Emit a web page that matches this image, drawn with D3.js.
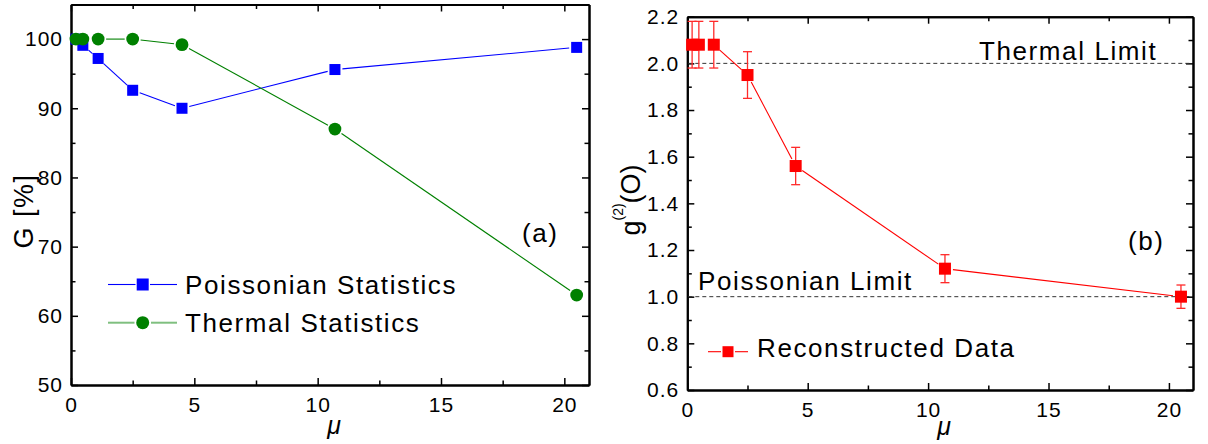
<!DOCTYPE html>
<html>
<head>
<meta charset="utf-8">
<script src="https://cdn.jsdelivr.net/npm/d3@7/dist/d3.min.js"></script>
<style>
  html, body { margin: 0; padding: 0; background: #fff; }
  svg { display: block; }
  text { font-family: "Liberation Sans", Arial, sans-serif; fill: #000; }
</style>
</head>
<body>
<svg id="chart" width="1208" height="444"></svg>
<script>
// ---------- data ----------
const mu = [0.2, 0.48, 1.1, 2.5, 4.5, 10.7, 20.5];
const poissonG = [100, 99.1, 97.2, 92.6, 90.0, 95.6, 98.8];
const thermalG = [100, 100, 100, 100, 99.2, 87.0, 63.0];
const g2Values = [2.08, 2.08, 2.08, 1.95, 1.56, 1.12, 1.0];
const g2Errors = [0.1, 0.1, 0.1, 0.1, 0.08, 0.06, 0.05];

const xMajorTicks = [0, 5, 10, 15, 20];
const xMinorTicks = [2.5, 7.5, 12.5, 17.5];
const gMajorTicks = [50, 60, 70, 80, 90, 100];
const gMinorTicks = [55, 65, 75, 85, 95];
const g2MajorTicks = [0.6, 0.8, 1.0, 1.2, 1.4, 1.6, 1.8, 2.0, 2.2];
const g2MinorTicks = [0.7, 0.9, 1.1, 1.3, 1.5, 1.7, 1.9, 2.1];
const limitLevels = [2.0, 1.0];
const limitLabels = ["Thermal Limit", "Poissonian Limit"];
const legendA = ["Poissonian Statistics", "Thermal Statistics"];
const legendB = ["Reconstructed Data"];

// ---------- setup ----------
const svg = d3.select("#chart");
svg.append("rect").attr("width", 1208).attr("height", 444).attr("fill", "#fff");

const MAJ = 7, MIN = 4.5;
const tickFont = 21;

function styleAxis(g) {
  g.select(".domain").attr("stroke", "#000").attr("stroke-width", 2);
  g.selectAll(".tick line").attr("stroke", "#000").attr("stroke-width", 1.5);
  g.selectAll("text")
    .style("font-family", '"Liberation Sans", Arial, sans-serif')
    .style("font-size", tickFont + "px")
    .style("letter-spacing", "1px")
    .attr("fill", "#000");
}

function drawFrame(x, y, xMaj, xMin, yMaj, yMin, yFmt) {
  const [x0, x1] = x.range();
  const [y0, y1] = y.range(); // y0 bottom, y1 top
  // bottom
  svg.append("g").attr("transform", `translate(0,${y0})`)
    .call(d3.axisBottom(x).tickValues(xMin).tickSizeInner(-MIN).tickSizeOuter(0).tickFormat(""))
    .call(styleAxis);
  svg.append("g").attr("transform", `translate(0,${y0})`)
    .call(d3.axisBottom(x).tickValues(xMaj).tickSizeInner(-MAJ).tickSizeOuter(0).tickPadding(12).tickFormat(d3.format("d")))
    .call(styleAxis);
  // top
  svg.append("g").attr("transform", `translate(0,${y1})`)
    .call(d3.axisTop(x).tickValues(xMin).tickSizeInner(-MIN).tickSizeOuter(0).tickFormat(""))
    .call(styleAxis);
  svg.append("g").attr("transform", `translate(0,${y1})`)
    .call(d3.axisTop(x).tickValues(xMaj).tickSizeInner(-MAJ).tickSizeOuter(0).tickFormat(""))
    .call(styleAxis);
  // left
  svg.append("g").attr("transform", `translate(${x0},0)`)
    .call(d3.axisLeft(y).tickValues(yMin).tickSizeInner(-MIN).tickSizeOuter(0).tickFormat(""))
    .call(styleAxis);
  svg.append("g").attr("transform", `translate(${x0},0)`)
    .call(d3.axisLeft(y).tickValues(yMaj).tickSizeInner(-MAJ).tickSizeOuter(0).tickPadding(8).tickFormat(yFmt))
    .call(styleAxis);
  // right
  svg.append("g").attr("transform", `translate(${x1},0)`)
    .call(d3.axisRight(y).tickValues(yMin).tickSizeInner(-MIN).tickSizeOuter(0).tickFormat(""))
    .call(styleAxis);
  svg.append("g").attr("transform", `translate(${x1},0)`)
    .call(d3.axisRight(y).tickValues(yMaj).tickSizeInner(-MAJ).tickSizeOuter(0).tickFormat(""))
    .call(styleAxis);
}

// line made of segments trimmed around markers
function trimmedSegments(g, pts, gap, color, width) {
  for (let i = 0; i < pts.length - 1; i++) {
    const [ax, ay] = pts[i], [bx, by] = pts[i + 1];
    const dx = bx - ax, dy = by - ay, L = Math.hypot(dx, dy);
    if (L <= 2 * gap) continue;
    const ux = dx / L, uy = dy / L;
    g.append("line")
      .attr("x1", ax + ux * gap).attr("y1", ay + uy * gap)
      .attr("x2", bx - ux * gap).attr("y2", by - uy * gap)
      .attr("stroke", color).attr("stroke-width", width);
  }
}

const annFont = 26;
function annText(x, y, s, size) {
  return svg.append("text").attr("x", x).attr("y", y)
    .style("font-size", (size || annFont) + "px")
    .style("letter-spacing", "1.6px")
    .text(s);
}

// ---------- panel (a) ----------
const xA = d3.scaleLinear().domain([0, 21]).range([71, 589]);
const yA = d3.scaleLinear().domain([50, 105]).range([385, 4.5]);

drawFrame(xA, yA, xMajorTicks, xMinorTicks, gMajorTicks, gMinorTicks, d3.format("d"));

const pA = svg.append("g");
const bluePts = mu.map((m, i) => [xA(m), yA(poissonG[i])]);
const greenPts = mu.map((m, i) => [xA(m), yA(thermalG[i])]);
trimmedSegments(pA, bluePts, 7.5, "#0000ff", 1.1);
trimmedSegments(pA, greenPts, 8, "#008000", 1.1);
const SQ = 11;
pA.selectAll("rect.blue").data(mu).join("rect").attr("class", "blue")
  .attr("x", (d) => xA(d) - SQ / 2).attr("y", (d, i) => yA(poissonG[i]) - SQ / 2)
  .attr("width", SQ).attr("height", SQ).attr("fill", "#0000ff");
pA.selectAll("circle.green").data(mu).join("circle").attr("class", "green")
  .attr("cx", (d) => xA(d)).attr("cy", (d, i) => yA(thermalG[i]))
  .attr("r", 6.4).attr("fill", "#008000");

// legend (a)
const lgA = svg.append("g");
lgA.append("line").attr("x1", 108).attr("x2", 135.5).attr("y1", 284.5).attr("y2", 284.5).attr("stroke", "#0000ff").attr("stroke-width", 1.1);
lgA.append("line").attr("x1", 150).attr("x2", 177).attr("y1", 284.5).attr("y2", 284.5).attr("stroke", "#0000ff").attr("stroke-width", 1.1);
lgA.append("rect").attr("x", 142.7 - 6).attr("y", 284.5 - 6).attr("width", 12).attr("height", 12).attr("fill", "#0000ff");
lgA.append("line").attr("x1", 108).attr("x2", 134.5).attr("y1", 322.7).attr("y2", 322.7).attr("stroke", "#7fbf7f").attr("stroke-width", 2);
lgA.append("line").attr("x1", 151).attr("x2", 177).attr("y1", 322.7).attr("y2", 322.7).attr("stroke", "#7fbf7f").attr("stroke-width", 2);
lgA.append("circle").attr("cx", 142.7).attr("cy", 322.7).attr("r", 6.5).attr("fill", "#008000");
annText(185, 294, legendA[0]);
annText(185, 332, legendA[1]);
annText(522, 242, "(a)");

// axis labels (a)
svg.append("text").attr("transform", "translate(33,211) rotate(-90)")
  .attr("text-anchor", "middle").style("font-size", "27px").style("letter-spacing", "1.5px")
  .text("G [%]");
svg.append("text").attr("x", 334).attr("y", 434).attr("text-anchor", "middle")
  .style("font-size", "25px").style("font-style", "italic").text("μ");

// ---------- panel (b) ----------
const xB = d3.scaleLinear().domain([0, 21]).range([687.3, 1193]);
const yB = d3.scaleLinear().domain([0.6, 2.2]).range([390, 16.7]);

drawFrame(xB, yB, xMajorTicks, xMinorTicks, g2MajorTicks, g2MinorTicks, d3.format(".1f"));

const pB = svg.append("g");
// limit lines
pB.selectAll("line.limit").data(limitLevels).join("line").attr("class", "limit")
  .attr("x1", xB.range()[0] + 1).attr("x2", xB.range()[1] - 1)
  .attr("y1", (d) => yB(d)).attr("y2", (d) => yB(d))
  .attr("stroke", "#333").attr("stroke-width", 1).attr("stroke-dasharray", "4,3");
annText(979, 60, limitLabels[0]);
annText(698, 290, limitLabels[1]);

const redPts = mu.map((m, i) => [xB(m), yB(g2Values[i])]);
trimmedSegments(pB, redPts, 8, "#ff0000", 1.1);
// error bars
const CAP = 4.5;
const eb = pB.append("g").attr("stroke", "#ff2a2a").attr("stroke-width", 1.3);
mu.forEach((m, i) => {
  const cx = xB(m), yt = yB(g2Values[i] + g2Errors[i]), yb = yB(g2Values[i] - g2Errors[i]);
  eb.append("line").attr("x1", cx).attr("x2", cx).attr("y1", yt).attr("y2", yb);
  eb.append("line").attr("x1", cx - CAP).attr("x2", cx + CAP).attr("y1", yt).attr("y2", yt);
  eb.append("line").attr("x1", cx - CAP).attr("x2", cx + CAP).attr("y1", yb).attr("y2", yb);
});
const RSQ = 12;
pB.selectAll("rect.red").data(mu).join("rect").attr("class", "red")
  .attr("x", (d) => xB(d) - RSQ / 2).attr("y", (d, i) => yB(g2Values[i]) - RSQ / 2)
  .attr("width", RSQ).attr("height", RSQ).attr("fill", "#ff0000");

// legend (b)
const lgB = svg.append("g");
lgB.append("line").attr("x1", 708).attr("x2", 721).attr("y1", 351.7).attr("y2", 351.7).attr("stroke", "#ff0000").attr("stroke-width", 1.1);
lgB.append("line").attr("x1", 735).attr("x2", 748).attr("y1", 351.7).attr("y2", 351.7).attr("stroke", "#ff0000").attr("stroke-width", 1.1);
lgB.append("rect").attr("x", 728 - 5.5).attr("y", 351.7 - 5.5).attr("width", 11).attr("height", 11).attr("fill", "#ff0000");
annText(757, 357, legendB[0]);
annText(1128, 250, "(b)");

// axis labels (b)
const yl = svg.append("text").attr("transform", "translate(640,200) rotate(-90)")
  .attr("text-anchor", "middle").style("font-size", "27px");
yl.append("tspan").text("g");
yl.append("tspan").attr("dy", -17).style("font-size", "14px").text("(2)");
yl.append("tspan").attr("dy", 17).text("(O)");
svg.append("text").attr("x", 944).attr("y", 435).attr("text-anchor", "middle")
  .style("font-size", "25px").style("font-style", "italic").text("μ");
</script>
</body>
</html>
